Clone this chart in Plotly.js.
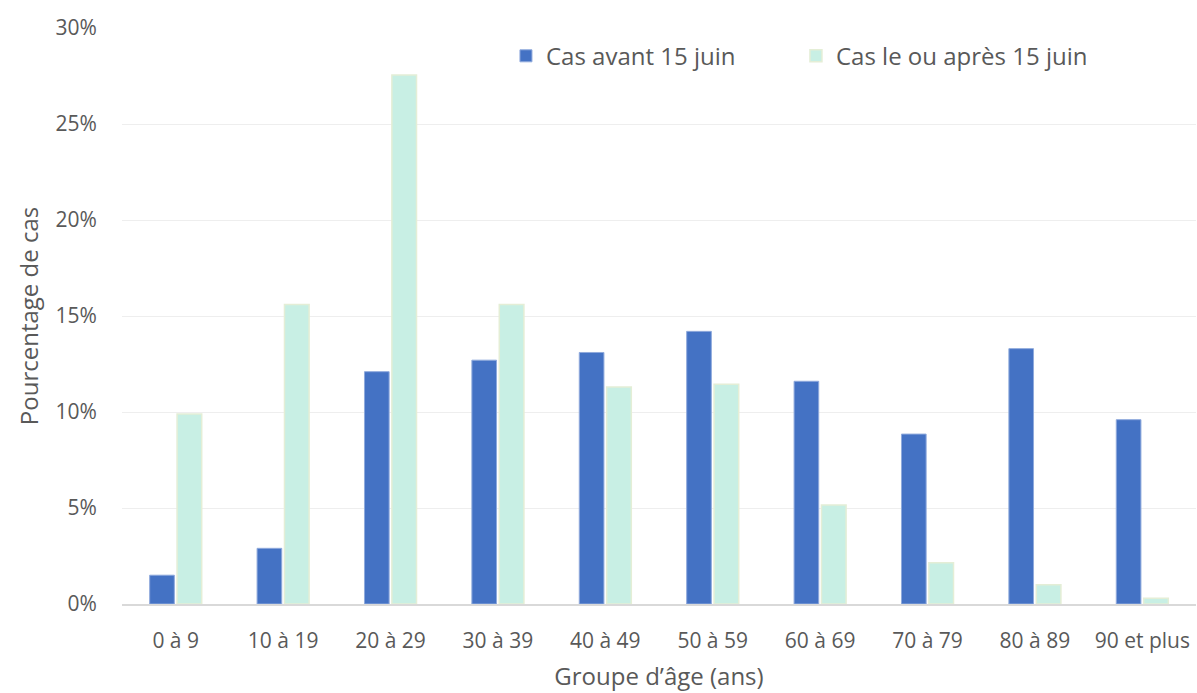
<!DOCTYPE html>
<html>
<head>
<meta charset="utf-8">
<script src="https://cdn.plot.ly/plotly-3.0.1.min.js"></script>
<style>html,body{margin:0;padding:0;background:#fff;}#chart{width:1197px;height:693px;}</style>
</head>
<body>
<div id="chart"></div>
<script>
const categories = ["0 à 9","10 à 19","20 à 29","30 à 39","40 à 49","50 à 59","60 à 69","70 à 79","80 à 89","90 et plus"];
const avant = [1.5, 2.9, 12.1, 12.7, 13.1, 14.2, 11.6, 8.85, 13.3, 9.6];
const apres = [9.9, 15.6, 27.55, 15.6, 11.3, 11.45, 5.15, 2.15, 1.0, 0.3];
const yTicks = [0, 5, 10, 15, 20, 25, 30];
const yTickLabels = yTicks.map(v => v + "%");

const font = "'Segoe UI', 'Open Sans', 'Noto Sans', sans-serif";
const traces = [
  {type:"bar", name:"Cas avant 15 juin", x:categories, y:avant,
   marker:{color:"#4472C4", line:{color:"#8FAADC", width:1}}},
  {type:"bar", name:"Cas le ou après 15 juin", x:categories, y:apres,
   marker:{color:"#C8EFE4", line:{color:"#E4EED6", width:1.5}}}
];
const layout = {
  width:1197, height:693,
  margin:{l:122, r:1, t:28, b:89},
  paper_bgcolor:"#fff", plot_bgcolor:"#fff",
  font:{family:font, color:"#595959", size:21},
  barmode:"group", bargap:0.49, bargroupgap:0.1,
  showlegend:true,
  legend:{orientation:"h", x:0.3575, y:0.951, xanchor:"left", yanchor:"middle",
          font:{size:24, color:"#595959"}, entrywidth:245, entrywidthmode:"pixels",
          tracegroupgap:0, bgcolor:"rgba(0,0,0,0)"},
  xaxis:{type:"category", showgrid:false, showline:true, linecolor:"#D9D9D9", linewidth:2,
         ticks:"outside", ticklen:17, tickcolor:"rgba(0,0,0,0)", tickfont:{size:21, color:"#595959"},
         title:{text:"Groupe d’âge (ans)", font:{size:24, color:"#595959"}, standoff:15}},
  yaxis:{range:[0,30], tickvals:yTicks, ticktext:yTickLabels, showgrid:true, gridcolor:"#EEEEEE",
         zeroline:false, showline:false, ticks:"outside", ticklen:20, tickcolor:"rgba(0,0,0,0)",
         tickfont:{size:21, color:"#595959"},
         title:{text:"Pourcentage de cas", font:{size:24, color:"#595959"}, standoff:10}}
};
Plotly.newPlot("chart", traces, layout, {displayModeBar:false, staticPlot:true});
</script>
</body>
</html>
